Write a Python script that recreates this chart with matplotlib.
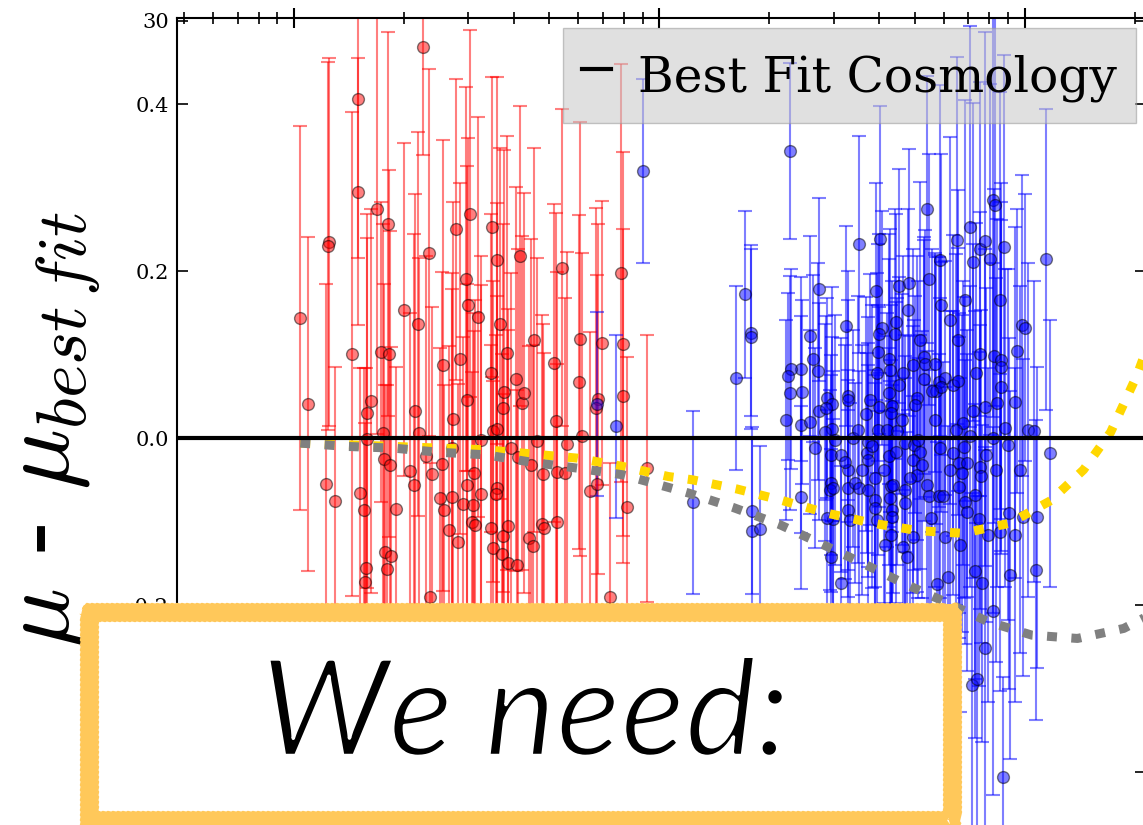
import numpy as np
import matplotlib
matplotlib.use('Agg')
import matplotlib.pyplot as plt
import matplotlib.patheffects as pe
from matplotlib.patches import Rectangle

# low-z sample (red)
red_z = [0.0104, 0.01247, 0.01238, 0.01498, 0.0150, 0.01688, 0.01809, 0.0200, 0.02254, 0.02342,
         0.02776, 0.03033, 0.02957, 0.02995, 0.0319, 0.03483, 0.03593, 0.04157, 0.05415, 0.0785,
         0.01093, 0.01224, 0.01295, 0.01441, 0.01517, 0.01555, 0.01585, 0.01625, 0.01585, 0.01570,
         0.01562, 0.01731, 0.01820, 0.01755, 0.01763, 0.01832, 0.01771, 0.01842, 0.01795, 0.01902,
         0.02185, 0.02144, 0.02199, 0.02077, 0.0213, 0.02298, 0.02387, 0.02356, 0.02556, 0.02707,
         0.02541, 0.02509, 0.02573, 0.02707, 0.02656, 0.02812, 0.02724, 0.02846, 0.02975, 0.03109,
         0.02975, 0.02900, 0.03090, 0.03070, 0.03129, 0.0325, 0.0325, 0.0346, 0.03664, 0.03828,
         0.04052, 0.03756, 0.04209, 0.0426, 0.03726, 0.03502, 0.03593, 0.03925, 0.04098, 0.03593,
         0.0357, 0.0346, 0.03726, 0.03853, 0.0351, 0.03703, 0.03853, 0.0408, 0.04537, 0.05147,
         0.0521, 0.0462, 0.0445, 0.0480, 0.0523, 0.0553, 0.0560, 0.06025, 0.0606, 0.0616,
         0.0645, 0.0675, 0.068, 0.0671, 0.0695, 0.0795, 0.0795, 0.0815, 0.0731, 0.0477,
         0.0483, 0.0523, 0.0440, 0.0452, 0.0924]
red_mu = [0.144, 0.235, 0.230, 0.406, 0.295, 0.275, 0.257, 0.154, 0.469, 0.222,
          0.250, 0.269, 0.190, 0.160, 0.145, 0.253, 0.213, 0.218, 0.204, 0.198,
          0.041, -0.055, -0.075, 0.101, -0.066, -0.086, 0.030, 0.044, -0.001, -0.156,
          -0.172, 0.103, 0.101, 0.006, -0.025, -0.032, -0.137, -0.141, -0.157, -0.085,
          0.137, 0.032, 0.006, -0.040, -0.056, -0.022, -0.043, -0.190, 0.087, -0.012,
          -0.031, -0.072, -0.086, -0.071, -0.110, -0.125, 0.023, 0.095, 0.046, -0.042,
          -0.056, -0.079, -0.080, -0.101, -0.104, -0.002, -0.067, 0.078, 0.137, 0.102,
          0.071, 0.055, 0.042, 0.054, 0.036, 0.008, 0.011, -0.012, -0.023, -0.060,
          -0.067, -0.108, -0.117, -0.105, -0.132, -0.139, -0.150, -0.152, 0.117, 0.090,
          0.020, -0.004, -0.032, -0.043, -0.041, -0.042, -0.007, 0.067, 0.119, 0.002,
          -0.063, -0.055, 0.047, 0.036, 0.114, 0.113, 0.050, -0.083, -0.190, -0.103,
          -0.108, -0.101, -0.120, -0.129, -0.036]
red_err = [0.23, 0.22, 0.22, 0.19, 0.16, 0.27, 0.23, 0.20, 0.13, 0.22,
           0.18, 0.22, 0.23, 0.20, 0.24, 0.18, 0.22, 0.18, 0.19, 0.25,
           0.20, 0.24, 0.16, 0.29, 0.15, 0.17, 0.21, 0.23, 0.27, 0.24,
           0.19, 0.18, 0.22, 0.25, 0.21, 0.28, 0.20, 0.25, 0.22, 0.17,
           0.23, 0.26, 0.21, 0.19, 0.30, 0.24, 0.20, 0.16, 0.27, 0.21,
           0.23, 0.18, 0.15, 0.25, 0.22, 0.19, 0.26, 0.21, 0.28, 0.17,
           0.24, 0.20, 0.23, 0.18, 0.27, 0.22, 0.25, 0.19, 0.21, 0.26,
           0.23, 0.29, 0.20, 0.24, 0.22, 0.18, 0.27, 0.21, 0.25, 0.23,
           0.19, 0.22, 0.17, 0.26, 0.20, 0.24, 0.28, 0.21, 0.23, 0.19,
           0.25, 0.22, 0.27, 0.18, 0.24, 0.21, 0.23, 0.20, 0.26, 0.22,
           0.19, 0.25, 0.21, 0.24, 0.17, 0.23, 0.20, 0.18, 0.16, 0.25,
           0.21, 0.19, 0.23, 0.24, 0.16]

# high-z sample (blue)
blue_z = [0.0902, 0.0761, 0.0675, 0.1236, 0.1621, 0.1714, 0.1782, 0.1782, 0.2279, 0.2732,
          0.2585, 0.2637, 0.2724, 0.2441, 0.2292, 0.2250, 0.2279, 0.2456, 0.2222, 0.2441,
          0.2585, 0.2732, 0.2876, 0.2968, 0.2858, 0.3243, 0.3518, 0.3283, 0.3283, 0.3678,
          0.4018, 0.3918, 0.4068, 0.3993, 0.4413, 0.4441, 0.4525, 0.4822, 0.4791, 0.3968,
          0.4250, 0.3943, 0.4643, 0.4526, 0.4250, 0.3993, 0.4330, 0.4303, 0.4943, 0.5071,
          0.5007, 0.540, 0.5475, 0.5898, 0.530, 0.535, 0.5680, 0.530, 0.5825, 0.6048,
          0.5716, 0.5898, 0.5573, 0.6357, 0.6567, 0.6524, 0.7084, 0.7545, 0.7217, 0.7781,
          0.8040, 0.8773, 0.8183, 0.8289, 0.6567, 0.7545, 0.8237, 0.8616, 0.8616, 0.7363,
          0.8616, 0.952, 0.9828, 1.001, 0.940, 0.8396, 0.7781, 0.7217, 1.144, 0.6762,
          0.2665, 0.2970, 0.2850, 0.2951, 0.3140, 0.3283, 0.3387, 0.3726, 0.3702, 0.3726,
          0.4250, 0.3968, 0.4192, 0.4470, 0.4702, 0.4976, 0.5170, 0.4943, 0.6357, 0.6610,
          0.6950, 0.6730, 0.7545, 0.7590, 0.8183, 0.7084, 0.8820, 1.021, 1.060, 1.173,
          0.2951, 0.2932, 0.2986, 0.3283, 0.3432, 0.3514, 0.3726, 0.3893, 0.3893, 0.3893,
          0.4303, 0.4277, 0.4359, 0.4702, 0.4702, 0.5071, 0.540, 0.5475, 0.5825, 0.5975,
          0.6610, 0.6860, 0.6950, 0.7500, 0.4330, 0.4330, 0.3943, 0.2986, 0.2876, 0.3283,
          0.5537, 0.4303, 0.4943, 0.6048, 0.7920, 0.8545, 0.905, 0.940, 0.9890, 1.082,
          0.2441, 0.1796, 0.1796, 0.1888, 0.2951, 0.3140, 0.4643, 0.4760, 0.5752, 0.6160,
          0.7307, 0.7640, 0.8183, 0.7781, 0.7175, 0.7410, 0.8715, 1.073,
          0.3024, 0.3221, 0.3496, 0.3585, 0.3819, 0.4118, 0.4442, 0.4613, 0.4853, 0.5103,
          0.5234, 0.568, 0.5862, 0.6244, 0.6483, 0.6818, 0.7308, 0.7832, 0.8342, 0.8998,
          0.9705, 0.3772, 0.4277, 0.5169, 0.6244, 0.6861, 0.5862, 0.8556, 0.3325, 0.4144,
          0.665, 0.9112]
blue_mu = [0.320, 0.014, 0.041, -0.077, 0.072, 0.172, 0.126, 0.121, 0.344, 0.178,
           0.122, 0.095, 0.080, 0.083, 0.083, 0.074, 0.054, 0.055, 0.022, 0.016,
           0.019, 0.032, 0.048, 0.041, 0.036, 0.134, 0.232, 0.050, 0.046, 0.029,
           0.238, 0.176, 0.132, 0.125, 0.125, 0.139, 0.182, 0.186, 0.154, 0.103,
           0.095, 0.078, 0.078, 0.063, 0.054, 0.037, 0.038, 0.030, 0.087, 0.048,
           0.040, 0.274, 0.190, 0.160, 0.097, 0.089, 0.089, 0.071, 0.067, 0.072,
           0.057, 0.061, 0.057, 0.063, 0.068, 0.237, 0.253, 0.226, 0.211, 0.236,
           0.214, 0.229, 0.285, 0.279, 0.117, 0.101, 0.098, 0.093, 0.085, 0.078,
           0.061, 0.104, 0.135, 0.132, 0.043, 0.042, 0.037, 0.032, 0.214, 0.018,
           -0.012, 0.011, 0.007, -0.020, -0.020, -0.038, 0.000, -0.005, -0.018, -0.026,
           -0.022, 0.010, 0.010, 0.008, -0.006, -0.008, -0.017, -0.026, -0.018, -0.030,
           -0.030, -0.042, -0.035, -0.046, 0.000, 0.002, 0.012, 0.010, 0.008, -0.018,
           -0.054, -0.062, -0.060, -0.060, -0.054, -0.060, -0.062, -0.048, -0.074, -0.084,
           -0.057, -0.072, -0.056, -0.062, -0.078, -0.044, -0.056, -0.069, -0.069, -0.069,
           -0.059, -0.077, -0.089, -0.097, -0.086, -0.095, -0.098, -0.097, -0.096, -0.086,
           -0.096, -0.116, -0.119, -0.119, -0.116, -0.113, -0.090, -0.116, -0.095, -0.095,
           -0.071, -0.087, -0.111, -0.109, -0.143, -0.174, -0.131, -0.143, -0.175, -0.166,
           -0.159, -0.174, -0.207, -0.251, -0.296, -0.289, -0.406, -0.158,
           -0.002, -0.029, 0.010, -0.038, -0.010, -0.038, -0.017, 0.022, -0.048, -0.002,
           -0.032, 0.022, -0.012, -0.038, 0.010, -0.011, -0.068, -0.020, -0.038, -0.008,
           -0.038, 0.046, 0.081, 0.117, 0.141, 0.165, 0.213, 0.165, -0.098, -0.128,
           -0.128, -0.164]
blue_err = [0.11, 0.11, 0.11, 0.11, 0.11, 0.10, 0.10, 0.11, 0.105, 0.11,
            0.12, 0.10, 0.13, 0.11, 0.12, 0.10, 0.14, 0.11, 0.12, 0.13,
            0.11, 0.13, 0.12, 0.14, 0.11, 0.12, 0.13, 0.15, 0.12, 0.14,
            0.16, 0.13, 0.14, 0.12, 0.15, 0.13, 0.14, 0.16, 0.12, 0.13,
            0.15, 0.12, 0.14, 0.13, 0.16, 0.12, 0.15, 0.13, 0.14, 0.17,
            0.13, 0.16, 0.15, 0.18, 0.14, 0.16, 0.13, 0.17, 0.15, 0.14,
            0.16, 0.15, 0.17, 0.18, 0.16, 0.22, 0.24, 0.20, 0.19, 0.25,
            0.21, 0.23, 0.26, 0.24, 0.18, 0.17, 0.20, 0.19, 0.22, 0.18,
            0.20, 0.17, 0.18, 0.16, 0.21, 0.22, 0.19, 0.20, 0.18, 0.17,
            0.12, 0.11, 0.13, 0.12, 0.14, 0.12, 0.13, 0.15, 0.12, 0.14,
            0.13, 0.15, 0.14, 0.16, 0.13, 0.15, 0.14, 0.16, 0.17, 0.18,
            0.16, 0.19, 0.17, 0.20, 0.21, 0.18, 0.19, 0.20, 0.18, 0.16,
            0.13, 0.12, 0.14, 0.13, 0.12, 0.14, 0.15, 0.13, 0.14, 0.16,
            0.15, 0.14, 0.13, 0.16, 0.15, 0.14, 0.16, 0.15, 0.17, 0.16,
            0.18, 0.17, 0.19, 0.20, 0.15, 0.14, 0.13, 0.12, 0.13, 0.12,
            0.16, 0.15, 0.17, 0.18, 0.20, 0.19, 0.21, 0.20, 0.19, 0.18,
            0.11, 0.10, 0.11, 0.10, 0.13, 0.14, 0.16, 0.15, 0.17, 0.18,
            0.20, 0.19, 0.22, 0.24, 0.23, 0.22, 0.12, 0.18,
            0.15, 0.14, 0.16, 0.15, 0.17, 0.16, 0.18, 0.15, 0.17, 0.19,
            0.16, 0.20, 0.18, 0.19, 0.21, 0.18, 0.22, 0.20, 0.23, 0.21,
            0.22, 0.15, 0.17, 0.19, 0.22, 0.24, 0.21, 0.25, 0.14, 0.16,
            0.20, 0.22]

# model curves relative to best fit
model_z = [0.0104, 0.01396, 0.0187, 0.025, 0.03345, 0.04484, 0.0596, 0.0795, 0.1058, 0.1233,
           0.1632, 0.2178, 0.2885, 0.3843, 0.5135, 0.6786, 0.9089, 1.178, 1.45, 1.72, 2.03, 2.36]
yellow_mu = [-0.006, -0.008, -0.010, -0.012, -0.014, -0.019, -0.024, -0.034, -0.046, -0.050,
             -0.061, -0.075, -0.090, -0.102, -0.111, -0.114, -0.102, -0.075, -0.038, 0.007, 0.075, 0.153]
gray_z = [0.0104, 0.01396, 0.0187, 0.025, 0.03345, 0.04484, 0.0596, 0.0795, 0.1058, 0.1206,
          0.159, 0.212, 0.2756, 0.3605, 0.4672, 0.6048, 0.7957, 1.0465, 1.396, 1.868, 2.36]
gray_mu = [-0.006, -0.010, -0.012, -0.017, -0.020, -0.029, -0.036, -0.044, -0.059, -0.066,
           -0.083, -0.103, -0.126, -0.150, -0.174, -0.196, -0.220, -0.236, -0.240, -0.228, -0.205]

ytick_vals = [-0.4, -0.2, 0.0, 0.2, 0.4, 0.5]
ytick_labels = ['\u22120.4', '\u22120.2', '0.0', '0.2', '0.4', '30']

plt.rcParams['font.family'] = 'DejaVu Serif'
plt.rcParams['mathtext.fontset'] = 'cm'

W, H = 1143, 825
fig = plt.figure(figsize=(W / 100, H / 100), dpi=100)
ax = fig.add_axes([177 / W, -0.037, 969 / W, 1.015])

ax.errorbar(red_z, red_mu, yerr=red_err, fmt='o', color='red', ecolor='red', mec='k',
            ms=8.5, alpha=0.5, capsize=5, elinewidth=1.5, capthick=1.5, zorder=2)
ax.errorbar(blue_z, blue_mu, yerr=blue_err, fmt='o', color='blue', ecolor='blue', mec='k',
            ms=8.5, alpha=0.5, capsize=5, elinewidth=1.5, capthick=1.5, zorder=2)

l1, = ax.plot(model_z, yellow_mu, color='#FFD700', lw=6.5, zorder=3)
l2, = ax.plot(gray_z, gray_mu, color='#808080', lw=6.5, zorder=3)
for ln in (l1, l2):
    ln.set_dashes((1.1, 1.6))
    ln.set_dash_capstyle('butt')

ax.axhline(0, color='k', lw=3, zorder=4, label='Best Fit Cosmology')

ax.set_xscale('log')
ax.set_xlim(0.00478, 2.15)
ax.set_ylim(-0.5, 0.503)
ax.set_yticks(ytick_vals)
ax.set_yticklabels(ytick_labels)

ax.xaxis.tick_top()
ax.tick_params(axis='x', which='major', direction='inout', length=14, width=1.5, labeltop=False)
ax.tick_params(axis='x', which='minor', direction='inout', length=8, width=1.2)
ax.tick_params(axis='y', direction='in', length=8, width=1.2, labelsize=15, right=True, pad=6)
for s in ax.spines.values():
    s.set_linewidth(1.5)

leg = ax.legend(loc='upper right', fontsize=35, handlelength=0.6, handletextpad=0.55,
                handleheight=1.4, borderpad=0.4, framealpha=0.55, facecolor='#c8c8c8',
                edgecolor='#999999', fancybox=False, borderaxespad=0.2)

fig.text(0.046, 0.479, r'$\mu$ - $\mu_{best\,fit}$', rotation=90, fontsize=73,
         ha='center', va='center')

# hand-drawn looking callout box over the lower part of the plot
box = Rectangle((89 / W, 0.006), (952 - 89) / W, 0.252, transform=fig.transFigure,
                facecolor='white', edgecolor='#FFC85A', lw=14, zorder=10)
box.set_joinstyle('bevel')
box.set_sketch_params(2, 5, 1)
fig.add_artist(box)
fig.text(525 / W, 1 - 718 / H, 'We need:', fontsize=97, family='Lato', style='italic',
         weight='normal', ha='center', va='center', zorder=11,
         path_effects=[pe.Stroke(linewidth=2.5, foreground='white')])

fig.savefig('out.png', dpi=100)
